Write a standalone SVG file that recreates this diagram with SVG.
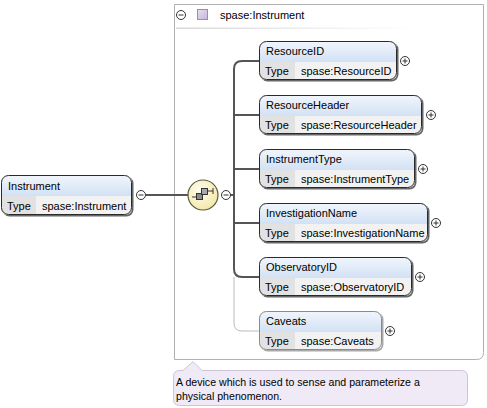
<svg xmlns="http://www.w3.org/2000/svg" width="487" height="408" viewBox="0 0 487 408">
<defs>
<linearGradient id="hdr" x1="0" y1="0" x2="0" y2="1"><stop offset="0" stop-color="#f2f6fc"/><stop offset="1" stop-color="#d2e1f5"/></linearGradient>
<linearGradient id="sep" x1="0" y1="0" x2="1" y2="0"><stop offset="0" stop-color="#d8d8d8"/><stop offset="1" stop-color="#ffffff"/></linearGradient>
<linearGradient id="pur" x1="0" y1="0" x2="1" y2="1"><stop offset="0" stop-color="#e8e0f2"/><stop offset="1" stop-color="#c4b6dc"/></linearGradient>
<radialGradient id="comp" cx="0.4" cy="0.35" r="0.7"><stop offset="0" stop-color="#fffdf0"/><stop offset="1" stop-color="#f2e7a6"/></radialGradient>
</defs>
<style>
text{font-family:"Liberation Sans",Arial,sans-serif;font-size:11px;fill:#000}
.shadow{fill:#666}
.body{fill:#f2f2f2;stroke:none}
.tcell{fill:#e2e2e2}
.outline{fill:none;stroke:#2a2a2a;stroke-width:1}
.opt .outline{stroke:#8a8a8a}
.opt .shadow{fill:#aaa}
.conn{fill:none;stroke:#555;stroke-width:2}
.connopt{fill:none;stroke:#bbb;stroke-width:1}
.btn{fill:#fff;stroke:#333;stroke-width:1}
.sign{stroke:#333;stroke-width:1;fill:none}
.ann{font-size:10.6px}
</style>

<g id="container">
<path d="M174.5,4.5 H483.5 V352.5 Q483.5,359.5 476.5,359.5 H174.5 Z" fill="#fff" stroke="#b0b0b0"/>
<rect x="176" y="27.5" width="240" height="1.5" fill="url(#sep)"/>
<circle class="btn" cx="181" cy="15" r="4.5"/><path class="sign" d="M178.5,15 H183.5"/>
<rect x="197.5" y="9.5" width="10" height="10" fill="url(#pur)" stroke="#9a8cb8"/>
<text x="220" y="19">spase:Instrument</text>
</g>

<g id="connectors">
<path class="conn" d="M146,195 H188"/>
<path class="conn" d="M230,195 H234"/>
<path class="conn" d="M259,61 H242 Q234,61 234,69 V269 Q234,277 242,277 H259"/>
<path class="conn" d="M234,115 H259"/>
<path class="conn" d="M234,169 H259"/>
<path class="conn" d="M234,223 H259"/>
<path class="connopt" d="M234,277 V323 Q234,331 242,331 H259"/>
</g>

<g id="node-Instrument">
<rect class="shadow" x="2.5" y="176.5" width="131" height="40" rx="7"/>
<path d="M1,196 V182 Q1,175 8,175 H125 Q132,175 132,182 V196 Z" fill="url(#hdr)"/>
<path class="body" d="M1,196 H132 V208 Q132,215 125,215 H8 Q1,215 1,208 Z"/>
<path class="tcell" d="M1,196 H36 V215 H8 Q1,215 1,208 Z"/>
<rect class="outline" x="1.5" y="175.5" width="130" height="39" rx="7"/>
<text x="8" y="190">Instrument</text>
<text x="7" y="210">Type</text>
<text x="42" y="210">spase:Instrument</text>
<circle class="btn" cx="141" cy="195" r="4.5"/><path class="sign" d="M138.5,195 H143.5"/>
</g>

<g id="compositor">
<circle cx="203" cy="195" r="15" fill="url(#comp)" stroke="#5a5a40" stroke-width="1.2"/>
<path d="M192,197 H197" stroke="#333" stroke-width="1"/>
<rect x="196.5" y="193.5" width="6" height="6" fill="#8c8c8c" stroke="#333"/>
<rect x="201.5" y="188.5" width="6" height="6" fill="#a8a8a8" stroke="#333"/>
<path d="M207,191 H213 M213,188 V194" stroke="#333" stroke-width="1"/>
<circle class="btn" cx="226" cy="195" r="4.5"/><path class="sign" d="M223.5,195 H228.5"/>
</g>

<g id="node-ResourceID">
<rect class="shadow" x="260.5" y="42.5" width="138" height="39" rx="7"/>
<path d="M259,62 V48 Q259,41 266,41 H390 Q397,41 397,48 V62 Z" fill="url(#hdr)"/>
<path class="body" d="M259,62 H397 V73 Q397,80 390,80 H266 Q259,80 259,73 Z"/>
<path class="tcell" d="M259,62 H295 V80 H266 Q259,80 259,73 Z"/>
<rect class="outline" x="259.5" y="41.5" width="137" height="38" rx="7"/>
<text x="266" y="55">ResourceID</text>
<text x="265" y="75">Type</text>
<text x="301" y="75">spase:ResourceID</text>
<circle class="btn" cx="405" cy="61" r="4.5"/><path class="sign" d="M402.5,61 H407.5 M405,58.5 V63.5"/>
</g>

<g id="node-ResourceHeader">
<rect class="shadow" x="260.5" y="96.5" width="163" height="39" rx="7"/>
<path d="M259,116 V102 Q259,95 266,95 H415 Q422,95 422,102 V116 Z" fill="url(#hdr)"/>
<path class="body" d="M259,116 H422 V127 Q422,134 415,134 H266 Q259,134 259,127 Z"/>
<path class="tcell" d="M259,116 H295 V134 H266 Q259,134 259,127 Z"/>
<rect class="outline" x="259.5" y="95.5" width="162" height="38" rx="7"/>
<text x="266" y="109">ResourceHeader</text>
<text x="265" y="129">Type</text>
<text x="301" y="129">spase:ResourceHeader</text>
<circle class="btn" cx="431" cy="115" r="4.5"/><path class="sign" d="M428.5,115 H433.5 M431,112.5 V117.5"/>
</g>

<g id="node-InstrumentType">
<rect class="shadow" x="260.5" y="150.5" width="156" height="39" rx="7"/>
<path d="M259,170 V156 Q259,149 266,149 H408 Q415,149 415,156 V170 Z" fill="url(#hdr)"/>
<path class="body" d="M259,170 H415 V181 Q415,188 408,188 H266 Q259,188 259,181 Z"/>
<path class="tcell" d="M259,170 H295 V188 H266 Q259,188 259,181 Z"/>
<rect class="outline" x="259.5" y="149.5" width="155" height="38" rx="7"/>
<text x="266" y="163">InstrumentType</text>
<text x="265" y="183">Type</text>
<text x="301" y="183">spase:InstrumentType</text>
<circle class="btn" cx="423" cy="169" r="4.5"/><path class="sign" d="M420.5,169 H425.5 M423,166.5 V171.5"/>
</g>

<g id="node-InvestigationName">
<rect class="shadow" x="260.5" y="204.5" width="169" height="39" rx="7"/>
<path d="M259,224 V210 Q259,203 266,203 H421 Q428,203 428,210 V224 Z" fill="url(#hdr)"/>
<path class="body" d="M259,224 H428 V235 Q428,242 421,242 H266 Q259,242 259,235 Z"/>
<path class="tcell" d="M259,224 H295 V242 H266 Q259,242 259,235 Z"/>
<rect class="outline" x="259.5" y="203.5" width="168" height="38" rx="7"/>
<text x="266" y="217">InvestigationName</text>
<text x="265" y="237">Type</text>
<text x="301" y="237">spase:InvestigationName</text>
<circle class="btn" cx="436" cy="223" r="4.5"/><path class="sign" d="M433.5,223 H438.5 M436,220.5 V225.5"/>
</g>

<g id="node-ObservatoryID">
<rect class="shadow" x="260.5" y="258.5" width="153" height="39" rx="7"/>
<path d="M259,278 V264 Q259,257 266,257 H405 Q412,257 412,264 V278 Z" fill="url(#hdr)"/>
<path class="body" d="M259,278 H412 V289 Q412,296 405,296 H266 Q259,296 259,289 Z"/>
<path class="tcell" d="M259,278 H295 V296 H266 Q259,296 259,289 Z"/>
<rect class="outline" x="259.5" y="257.5" width="152" height="38" rx="7"/>
<text x="266" y="271">ObservatoryID</text>
<text x="265" y="291">Type</text>
<text x="301" y="291">spase:ObservatoryID</text>
<circle class="btn" cx="420" cy="277" r="4.5"/><path class="sign" d="M417.5,277 H422.5 M420,274.5 V279.5"/>
</g>

<g id="node-Caveats" class="opt">
<rect class="shadow" x="260.5" y="312.5" width="123" height="39" rx="7"/>
<path d="M259,332 V318 Q259,311 266,311 H375 Q382,311 382,318 V332 Z" fill="url(#hdr)"/>
<path class="body" d="M259,332 H382 V343 Q382,350 375,350 H266 Q259,350 259,343 Z"/>
<path class="tcell" d="M259,332 H295 V350 H266 Q259,350 259,343 Z"/>
<rect class="outline" x="259.5" y="311.5" width="122" height="38" rx="7"/>
<text x="266" y="325">Caveats</text>
<text x="265" y="345">Type</text>
<text x="301" y="345">spase:Caveats</text>
<circle class="btn" cx="390" cy="331" r="4.5"/><path class="sign" d="M387.5,331 H392.5 M390,328.5 V333.5"/>
</g>

<g id="annotation">
<path d="M179.5,370.5 H183 L193,361.5 L202,370.5 H461.5 Q467.5,370.5 467.5,376.5 V399.5 Q467.5,405.5 461.5,405.5 H179.5 Q173.5,405.5 173.5,399.5 V376.5 Q173.5,370.5 179.5,370.5 Z" fill="#efeaf5" stroke="#cdc4dc"/>
<text class="ann" x="176" y="386">A device which is used to sense and parameterize a</text>
<text class="ann" x="176" y="400">physical phenomenon.</text>
</g>
</svg>
